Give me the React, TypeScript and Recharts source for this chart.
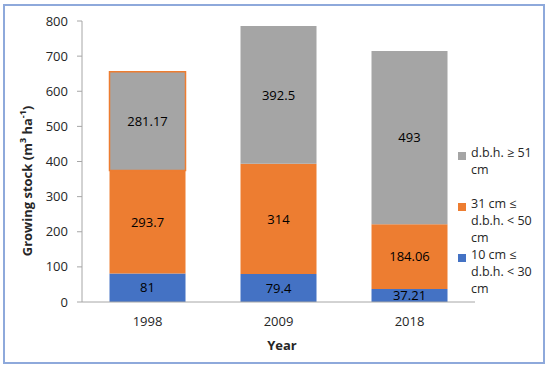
import React from 'react';
import { BarChart, Bar, XAxis, YAxis, Legend, LabelList, Label, Cell } from 'recharts';

const years = ['1998', '2009', '2018'];
const small = [81, 79.4, 37.21];
const medium = [293.7, 314, 184.06];
const large = [281.17, 392.5, 493];
const yTicks = [0, 100, 200, 300, 400, 500, 600, 700, 800];

const seriesNames = {
  small: '10 cm ≤ d.b.h. < 30 cm',
  medium: '31 cm ≤ d.b.h. < 50 cm',
  large: 'd.b.h. ≥ 51 cm',
};
const colors = { small: '#4472C4', medium: '#ED7D31', large: '#A5A5A5' };

const data = years.map((y, i) => ({ year: y, small: small[i], medium: medium[i], large: large[i] }));

const FONT = '"Open Sans", sans-serif';

const legendItems = [
  { key: 'large', name: seriesNames.large, color: colors.large },
  { key: 'medium', name: seriesNames.medium, color: colors.medium },
  { key: 'small', name: seriesNames.small, color: colors.small },
];

const renderLegend = () => (
  <div style={{ fontFamily: FONT, fontSize: 12.5, color: '#262626' }}>
    {legendItems.map((it) => (
      <div key={it.key} style={{ display: 'flex', alignItems: 'flex-start', height: 51 }}>
        <div style={{ width: 8, height: 8, background: it.color, marginTop: 6, marginRight: 5, flexShrink: 0 }} />
        <div style={{ width: 72, lineHeight: '17px', marginTop: -2 }}>{it.name}</div>
      </div>
    ))}
  </div>
);

const fmt = (v: any) => String(v);

export default function App() {
  return (
    <div style={{ position: 'absolute', left: 0, top: 0, width: 550, height: 369, background: '#fff' }}>
      <div
        style={{
          position: 'absolute',
          left: 3,
          top: 4,
          width: 538,
          height: 356,
          border: '2px solid #8EA9DB',
          boxSizing: 'content-box',
        }}
      />
      <div style={{ position: 'absolute', left: 0, top: 0 }}>
        <BarChart
          width={550}
          height={369}
          data={data}
          margin={{ top: 21, right: 75, bottom: 37, left: 0 }}
          barCategoryGap="21%"
        >
          <XAxis
            dataKey="year"
            height={30}
            tickLine={false}
            tickSize={0}
            tickMargin={15}
            axisLine={{ stroke: '#A6A6A6' }}
            tick={{ fill: '#262626', fontSize: 13, fontFamily: FONT }}
          >
            <Label
              content={() => (
                <text x={282} y={345} textAnchor="middle" dominantBaseline="central" fontFamily={FONT} fontSize={13} fontWeight="bold" fill="#262626">
                  Year
                </text>
              )}
            />
          </XAxis>
          <YAxis
            width={82}
            domain={[0, 800]}
            ticks={yTicks}
            interval={0}
            tickSize={5}
            tickMargin={9}
            axisLine={{ stroke: '#A6A6A6' }}
            tickLine={{ stroke: '#A6A6A6' }}
            tick={{ fill: '#262626', fontSize: 13, fontFamily: FONT }}
          >
            <Label
              content={() => (
                <text
                  x={27}
                  y={181}
                  transform="rotate(-90 27 181)"
                  textAnchor="middle"
                  dominantBaseline="central"
                  fontFamily={FONT}
                  fontSize={13}
                  fontWeight="bold"
                  fill="#262626"
                >
                  Growing stock (m<tspan fontSize={9} dy={-5}>3</tspan>
                  <tspan dy={5}> ha</tspan>
                  <tspan fontSize={9} dy={-5}>-1</tspan>
                  <tspan dy={5}>)</tspan>
                </text>
              )}
            />
          </YAxis>
          <Legend
            layout="horizontal"
            verticalAlign="middle"
            align="center"
            content={renderLegend}
            wrapperStyle={{ left: 458, top: 146, width: 90, height: 160 }}
          />
          <Bar dataKey="small" name={seriesNames.small} stackId="a" fill={colors.small} isAnimationActive={false}>
            <LabelList dataKey="small" position="center" formatter={fmt} fill="#000" fontSize={13} fontFamily={FONT} />
          </Bar>
          <Bar dataKey="medium" name={seriesNames.medium} stackId="a" fill={colors.medium} isAnimationActive={false}>
            <LabelList dataKey="medium" position="center" formatter={fmt} fill="#000" fontSize={13} fontFamily={FONT} />
          </Bar>
          <Bar dataKey="large" name={seriesNames.large} stackId="a" fill={colors.large} isAnimationActive={false}>
            {data.map((d, i) => (
              <Cell key={d.year} fill={colors.large} stroke={i === 0 ? colors.medium : 'none'} strokeWidth={i === 0 ? 1.5 : 0} />
            ))}
            <LabelList dataKey="large" position="center" formatter={fmt} fill="#000" fontSize={13} fontFamily={FONT} />
          </Bar>
        </BarChart>
      </div>
    </div>
  );
}
